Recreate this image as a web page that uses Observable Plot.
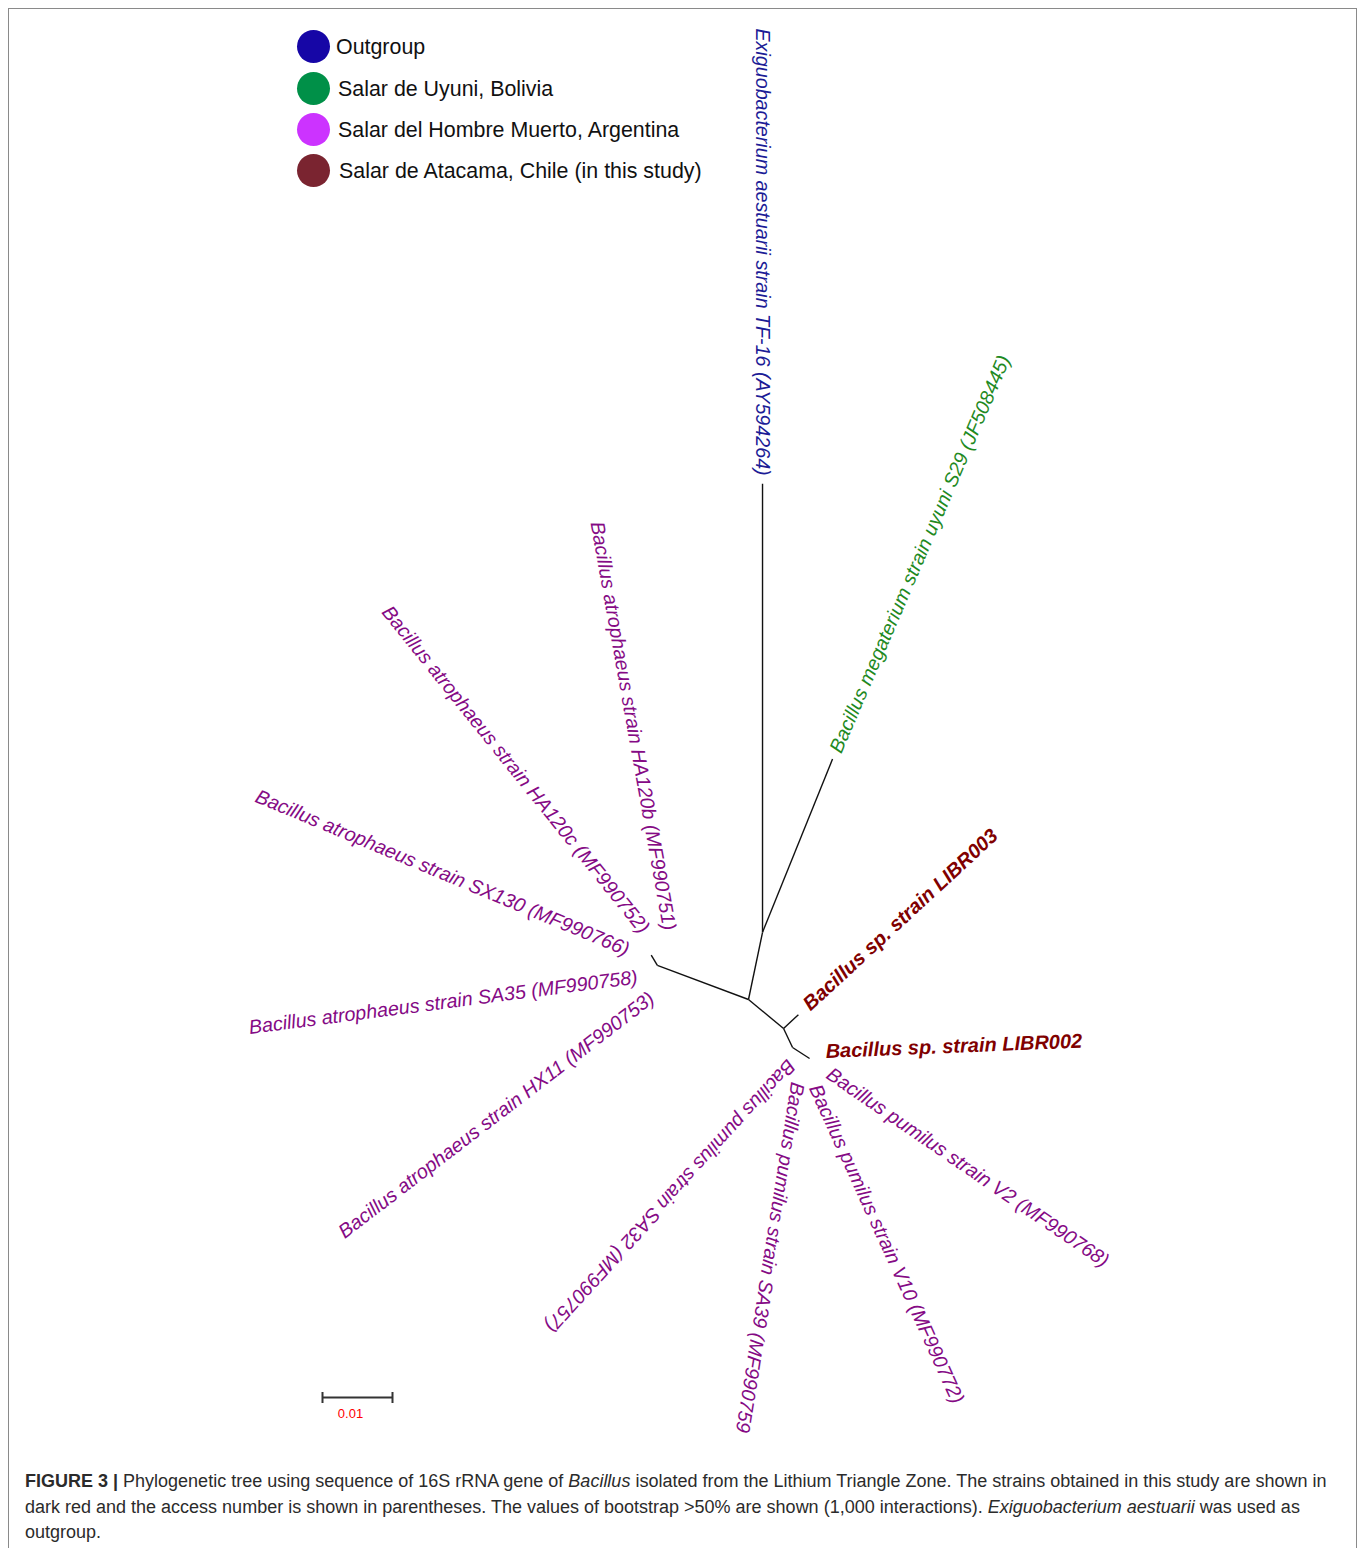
<!DOCTYPE html>
<html>
<head>
<meta charset="utf-8">
<script src="https://cdn.jsdelivr.net/npm/d3@7"></script>
<script src="https://cdn.jsdelivr.net/npm/@observablehq/plot@0.6"></script>
<style>
  html, body { margin: 0; padding: 0; background: #fff; }
  body { width: 1360px; height: 1548px; position: relative; overflow: hidden; font-family: "Liberation Sans", Arial, sans-serif; }
  #frame { position: absolute; left: 8px; top: 8px; width: 1349px; height: 1600px; border: 1px solid #8a8a8a; box-sizing: border-box; }
  #chart { position: absolute; left: 0; top: 0; }
  #legend { position: absolute; left: 0; top: 0; }
  .lg-item { position: absolute; white-space: nowrap; font-size: 21.4px; color: #111; }
  .lg-dot { position: absolute; width: 33px; height: 33px; border-radius: 50%; }
  #caption { position: absolute; left: 25px; top: 1469px; font-size: 18px; line-height: 25.5px; color: #2b2b2b; white-space: nowrap; }
</style>
</head>
<body>
<div id="frame"></div>
<div id="chart"></div>
<div id="legend"></div>
<div id="caption"><b>FIGURE 3 |</b> Phylogenetic tree using sequence of 16S rRNA gene of <i>Bacillus</i> isolated from the Lithium Triangle Zone. The strains obtained in this study are shown in<br>dark red and the access number is shown in parentheses. The values of bootstrap &gt;50% are shown (1,000 interactions). <i>Exiguobacterium aestuarii</i> was used as<br>outgroup.</div>
<script>
// ---------- DATA ----------
const groups = ["Outgroup", "Salar de Uyuni, Bolivia", "Salar del Hombre Muerto, Argentina", "Salar de Atacama, Chile (in this study)"];

// internal nodes of the unrooted tree
const nodeIds     = ["root", "atroNode", "atroTip", "outNode", "studyNode", "pumNodeA", "pumNodeB"];
const nodeParents = [null,   "root",     "atroNode", "root",   "root",      "studyNode", "pumNodeA"];
const nodeLengths = [0,      0.0139,     0.0017,     0.0098,   0.0065,      0.0030,      0.0029];

// tips (leaves)
const tipLabels = [
  "Exiguobacterium aestuarii strain TF-16 (AY594264)",
  "Bacillus megaterium strain uyuni S29 (JF508445)",
  "Bacillus atrophaeus strain HA120b (MF990751)",
  "Bacillus atrophaeus strain HA120c (MF990752)",
  "Bacillus atrophaeus strain SX130 (MF990766)",
  "Bacillus atrophaeus strain SA35 (MF990758)",
  "Bacillus atrophaeus strain HX11 (MF990753)",
  "Bacillus sp. strain LIBR003",
  "Bacillus sp. strain LIBR002",
  "Bacillus pumilus strain V2 (MF990768)",
  "Bacillus pumilus strain V10 (MF990772)",
  "Bacillus pumilus strain SA39 (MF990759",
  "Bacillus pumilus strain SA32 (MF990757)"
];
const tipGroups = [0, 1, 2, 2, 2, 2, 2, 3, 3, 2, 2, 2, 2];
const tipParents = ["outNode", "outNode", "atroTip", "atroTip", "atroTip", "atroTip", "atroTip",
                    "studyNode", "pumNodeB", "pumNodeB", "pumNodeB", "pumNodeB", "pumNodeB"];
const tipLengths = [0.0641, 0.0267, 0, 0, 0, 0, 0, 0.0029, 0, 0, 0, 0, 0];

// scale bar value
const scaleBarValue = 0.01;
const scaleBarLabel = "0.01";

// ---------- LAYOUT (radial drawing directions, degrees clockwise from east) ----------
const nodeAngles = [0, 200.5, 239, -78.2, 39.6, 64.6, 33];
const tipAngles  = [-90, -68, 0, 0, 0, 0, 0, -43, 0, 0, 0, 0, 0];
const labelRotate = [90, -66.8, 79.9, 51.2, 22.6, -7.4, -37.4, -42.7, -2.3, 34.4, 65.6, 99, 132.4];
const labelAnchor = ["end", "start", "end", "end", "end", "end", "end", "start", "start", "start", "start", "start", "start"];
const labelGap    = [8, 8, 31, 25, 23.5, 26, 41, 11, 17.5, 23.6, 27.5, 26.8, 18.4];
const labelDir    = [-90, -68, -54, -104, -168, 122, 89, -45, -23.6, 36, 79.5, 116.6, 167.5];

const labelColors  = ["#1c1c96", "#1f8a1f", "#850a85", "#800000"];
const legendColors = ["#1606a6", "#009048", "#cc33ff", "#7a2430"];

// ---------- BUILD ----------
const PX = 7000;            // pixels per unit of branch length (0.01 -> 70px)
const W = 1360, H = 1460;
const rootPx = [748, 999];
const rad = a => a * Math.PI / 180;

const pos = new Map();
nodeIds.forEach((id, i) => {
  if (nodeParents[i] === null) { pos.set(id, [0, 0]); return; }
  const p = pos.get(nodeParents[i]);
  pos.set(id, [p[0] + nodeLengths[i] * Math.cos(rad(nodeAngles[i])), p[1] + nodeLengths[i] * Math.sin(rad(nodeAngles[i]))]);
});

const edges = [];
nodeIds.forEach((id, i) => {
  if (nodeParents[i] === null) return;
  const a = pos.get(nodeParents[i]), b = pos.get(id);
  edges.push({x1: a[0], y1: a[1], x2: b[0], y2: b[1]});
});

const tips = tipLabels.map((label, i) => {
  const p = pos.get(tipParents[i]);
  const x = p[0] + tipLengths[i] * Math.cos(rad(tipAngles[i]));
  const y = p[1] + tipLengths[i] * Math.sin(rad(tipAngles[i]));
  if (tipLengths[i] > 0) edges.push({x1: p[0], y1: p[1], x2: x, y2: y});
  return {
    label, group: groups[tipGroups[i]],
    lx: x + labelGap[i] / PX * Math.cos(rad(labelDir[i])),
    ly: y + labelGap[i] / PX * Math.sin(rad(labelDir[i])),
    rotate: labelRotate[i], anchor: labelAnchor[i], bold: tipGroups[i] === 3
  };
});

const sbX = (322 - rootPx[0]) / PX, sbY = (1397 - rootPx[1]) / PX, sbTick = 5.5 / PX;
const scaleBar = [
  {x1: sbX, y1: sbY, x2: sbX + scaleBarValue, y2: sbY},
  {x1: sbX, y1: sbY - sbTick, x2: sbX, y2: sbY + sbTick},
  {x1: sbX + scaleBarValue, y1: sbY - sbTick, x2: sbX + scaleBarValue, y2: sbY + sbTick}
];

const font = "'Liberation Sans', Arial, sans-serif";
const textOpts = (anchor, bold) => ({
  x: "lx", y: "ly", text: "label", rotate: "rotate", fill: "group",
  textAnchor: anchor, fontSize: bold ? 20 : 19.7, fontStyle: "italic",
  fontWeight: bold ? "bold" : "normal", fontFamily: font
});

const chart = Plot.plot({
  width: W, height: H, margin: 0,
  style: {background: "transparent", fontFamily: font},
  x: {domain: [-rootPx[0] / PX, (W - rootPx[0]) / PX], range: [0, W], axis: null},
  y: {domain: [-rootPx[1] / PX, (H - rootPx[1]) / PX], range: [0, H], axis: null},
  color: {domain: groups, range: labelColors},
  marks: [
    Plot.link(edges, {x1: "x1", y1: "y1", x2: "x2", y2: "y2", stroke: "#111", strokeWidth: 1.4}),
    Plot.text(tips.filter(d => d.anchor === "start" && !d.bold), textOpts("start", false)),
    Plot.text(tips.filter(d => d.anchor === "end" && !d.bold), textOpts("end", false)),
    Plot.text(tips.filter(d => d.bold), textOpts("start", true)),
    Plot.link(scaleBar, {x1: "x1", y1: "y1", x2: "x2", y2: "y2", stroke: "#333", strokeWidth: 2}),
    Plot.text([scaleBarLabel], {x: sbX + scaleBarValue / 2, y: sbY, text: d => d, dx: -7, dy: 16, fill: "#ff0000", fontSize: 13, fontFamily: font})
  ]
});
document.getElementById("chart").appendChild(chart);

// legend (HTML overlay)
const legend = document.getElementById("legend");
const legendY = [46, 88, 129, 170];
const legendTextX = [336, 338, 338, 339];
groups.forEach((g, i) => {
  const dot = document.createElement("div");
  dot.className = "lg-dot";
  dot.style.left = (313 - 16.5) + "px";
  dot.style.top = (legendY[i] - 16.5) + "px";
  dot.style.background = legendColors[i];
  legend.appendChild(dot);
  const t = document.createElement("div");
  t.className = "lg-item";
  t.textContent = g;
  t.style.left = legendTextX[i] + "px";
  t.style.top = (legendY[i] - 12) + "px";
  t.style.lineHeight = "26px";
  legend.appendChild(t);
});
</script>
</body>
</html>
